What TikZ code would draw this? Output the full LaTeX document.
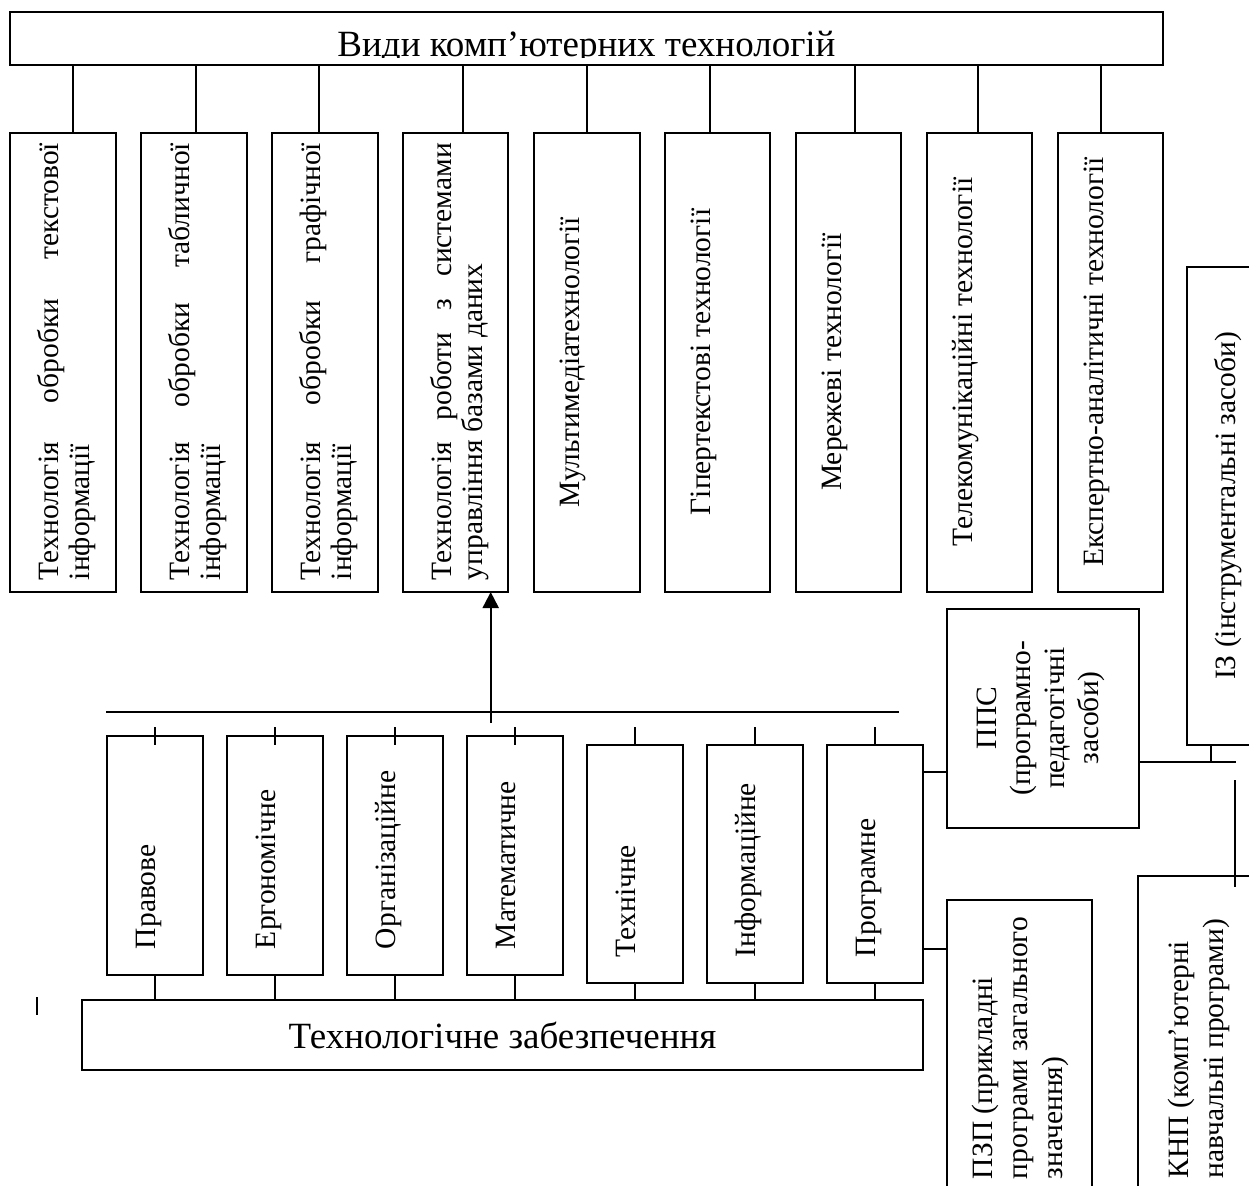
\documentclass[tikz,border=0pt]{standalone}
\usepackage{fontspec}
\setmainfont{Liberation Serif}
\usetikzlibrary{arrows.meta}
\tikzset{
  bx/.style={draw, line width=2pt, inner sep=0pt, outer sep=0pt, anchor=north west},
  vt/.style={rotate=90, inner sep=0pt, outer sep=0pt, font=\fontsize{29.5}{30.5}\selectfont},
  ln/.style={line width=2pt},
}
\begin{document}
\begin{tikzpicture}[x=1pt, y=-1pt]
\useasboundingbox (0,0) rectangle (1249,1185);
\clip (0,0) rectangle (1249,1185);
\fill[white] (0,0) rectangle (1249,1185);

% title
\node[bx, minimum width=1153pt, minimum height=53pt] (title) at (10,12) {};
\begin{scope}
  \clip (10,12) rectangle (1163,58);
  \node[inner sep=0pt, anchor=base, font=\fontsize{37}{40}\selectfont] (titlet) at (586.5,56.5) {Види комп’ютерних технологій};
\end{scope}

% top boxes
\foreach \n/\x/\w in {b1/10/106, b2/141/106, b3/272/106, b4/403/105, b5/534/106, b6/665/105, b7/796/105, b8/927/105, b9/1058/105}
  \node[bx, minimum width=\w pt, minimum height=459pt] (\n) at (\x,133) {};

\foreach \n/\o in {b1/63, b2/55, b3/47, b4/60, b5/53, b6/45, b7/59, b8/51, b9/43}{
  \coordinate (c\n) at ([xshift=\o pt]\n.north west);
  \draw[ln] (c\n) -- (c\n |- title.south);
}

% two-line texts: the base anchor is the baseline of the last line
\node[vt, anchor=base west, align=left] (b1t) at (89,580) {\makebox[437pt][s]{Технологія обробки текстової}\\інформації};
\node[vt, anchor=base west, align=left] (b2t) at (220,580) {\makebox[437pt][s]{Технологія обробки табличної}\\інформації};
\node[vt, anchor=base west, align=left] (b3t) at (351,580) {\makebox[437pt][s]{Технологія обробки графічної}\\інформації};
\node[vt, anchor=base west, align=left] (b4t) at (482,580) {\makebox[437pt][s]{Технологія роботи з системами}\\управління базами даних};
\node[vt, anchor=base] (b5t) at (579,362) {Мультимедіатехнології};
\node[vt, anchor=base] (b6t) at (710,362) {Гіпертекстові технології};
\node[vt, anchor=base] (b7t) at (841,362) {Мережеві технології};
\node[vt, anchor=base] (b8t) at (972,362) {Телекомунікаційні технології};
\node[vt, anchor=base] (b9t) at (1103,362) {Експертно-аналітичні технології};

% IZ box
\node[bx, minimum width=75pt, minimum height=478pt] (iz) at (1187,267) {};
\node[vt, anchor=base] (izt) at (1235,506) {ІЗ (інструментальні засоби)};

% bus and arrow
\coordinate (busL) at (106,712);
\coordinate (busR) at (899,712);
\draw[ln] (busL) -- (busR);
\coordinate (arrE) at ([xshift=87.7pt]b4.south west);
\coordinate (arrS) at (arrE |- 0,723);
\draw[ln, -{Triangle[width=16pt,length=16pt]}] (arrS) -- (arrE);

% bottom boxes
\foreach \n/\x in {p1/107, p2/227, p3/347, p4/467}
  \node[bx, minimum width=95.5pt, minimum height=239pt] (\n) at (\x,736) {};
\foreach \n/\x in {p5/587, p6/707, p7/827}
  \node[bx, minimum width=96pt, minimum height=238pt] (\n) at (\x,745) {};

\node[bx, minimum width=841pt, minimum height=70pt] (big) at (82,1000) {};
\node[inner sep=0pt, font=\fontsize{37}{40}\selectfont] (bigt) at (big.center) {Технологічне забезпечення};

\foreach \n in {p1,p2,p3,p4}
  \draw[ln] ([yshift=9pt]\n.north) -- ([yshift=-9pt]\n.north);
\foreach \n in {p5,p6,p7}
  \draw[ln] ([yshift=18pt]\n.north) -- (\n.north);
\foreach \n in {p1,p2,p3,p4,p5,p6,p7}
  \draw[ln] (\n.south) -- (\n.south |- big.north);

\node[vt, anchor=base west] (p1t) at (155,949) {Правове};
\node[vt, anchor=base west] (p2t) at (275,949) {Ергономічне};
\node[vt, anchor=base west] (p3t) at (395,949) {Організаційне};
\node[vt, anchor=base west] (p4t) at (515,949) {Математичне};
\node[vt, anchor=base west] (p5t) at (635,957) {Технічне};
\node[vt, anchor=base west] (p6t) at (755,957) {Інформаційне};
\node[vt, anchor=base west] (p7t) at (875,957) {Програмне};

% right side boxes
\node[bx, minimum width=192pt, minimum height=219pt] (pps) at (947,609) {};
\node[vt, anchor=base, align=center, font=\fontsize{29.5}{34}\selectfont] (ppst) at (1098,718) {ППС\\(програмно-\\педагогічні\\засоби)};

\node[bx, minimum width=145pt, minimum height=300pt] (pzp) at (947,900) {};
\node[vt, anchor=base west, align=left, font=\fontsize{29.5}{35}\selectfont] (pzpt) at (1062,1179) {ПЗП (прикладні\\програми загального\\значення)};

\node[bx, minimum width=124pt, minimum height=324pt] (knp) at (1138,876) {};
\node[vt, anchor=base west, align=left, font=\fontsize{29.5}{35.5}\selectfont] (knpt) at (1223.5,1178) {КНП (комп’ютерні\\навчальні програми)};

% connectors on the right
\coordinate (q1) at ([yshift=-27pt]p7.north east);
\draw[ln] (q1) -- (q1 -| pps.west);
\coordinate (q2) at ([yshift=-204pt]p7.north east);
\draw[ln] (q2) -- (q2 -| pzp.west);
\coordinate (r1) at ([yshift=-43.5pt]pps.east);
\coordinate (r2) at (1236,762);
\draw[ln] (r1) -- (r2);
\coordinate (t1) at ([xshift=24pt]iz.south west);
\draw[ln] (t1) -- (t1 |- r1);
\coordinate (v1) at (1235,780);
\coordinate (v2) at (1235,887);
\draw[ln] (v1) -- (v2);

% small mark at left
\coordinate (m1) at (37,997);
\coordinate (m2) at (37,1015);
\draw[ln] (m1) -- (m2);
\end{tikzpicture}
\end{document}
